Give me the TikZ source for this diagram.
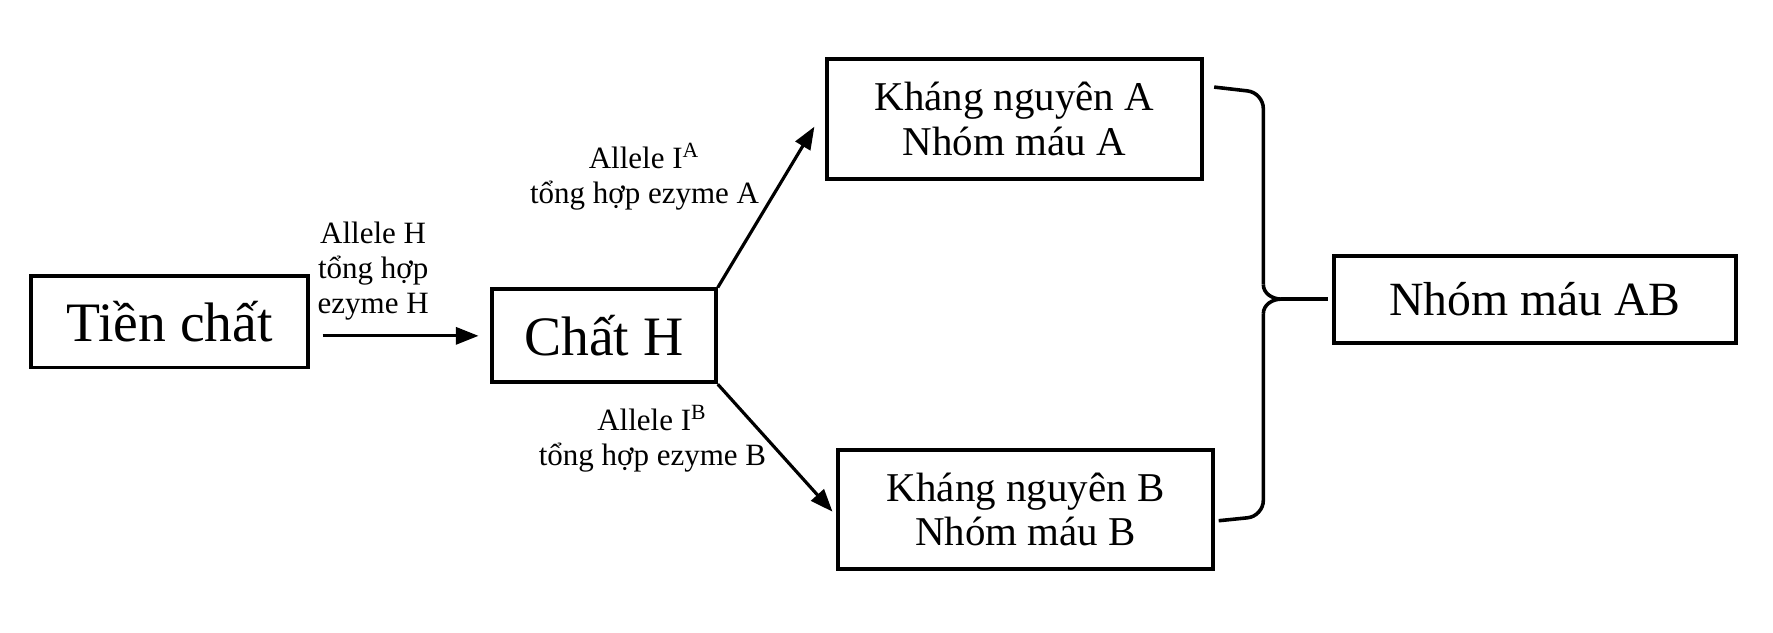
\documentclass[tikz,border=0pt]{standalone}
\usepackage{fontspec}
\setmainfont{Liberation Serif}
\usetikzlibrary{arrows.meta,calc}

\begin{document}
\begin{tikzpicture}
    \tikzstyle{block} = [rectangle, draw, line width=1pt, inner sep=0pt, align=center]
    \tikzstyle{enz} = [align=center, inner sep=0pt, font=\fontsize{7.8}{8.8}\selectfont]
    \tikzstyle{link} = [draw, line width=0.8pt, -{Triangle[length=2mm,width=1.5mm]}]
    \tikzstyle{brace} = [draw, line width=0.9pt]

    \useasboundingbox (0,0) rectangle (15.68,-5.59);

    % Boxes
    \node[block, minimum width=2.45cm, minimum height=0.81cm,
      font=\fontsize{14}{16}\selectfont] (tien) at (1.50,-2.845) {Tiền chất};
    \node[block, minimum width=1.98cm, minimum height=0.82cm,
      font=\fontsize{14}{16}\selectfont] (chatH) at (5.34,-2.97) {Chất H};
    \node[block, minimum width=3.32cm, minimum height=1.06cm,
      font=\fontsize{10.3}{11.3}\selectfont] (ka) at (8.97,-1.05) {Kháng nguyên A\\Nhóm máu A};
    \node[block, minimum width=3.32cm, minimum height=1.05cm,
      font=\fontsize{10.3}{11.3}\selectfont] (kb) at (9.07,-4.505) {Kháng nguyên B\\Nhóm máu B};
    \node[block, minimum width=3.55cm, minimum height=0.77cm,
      font=\fontsize{12}{14}\selectfont] (ab) at (13.575,-2.645) {Nhóm máu AB};

    % Enzyme labels
    \node[enz] (allH) at (3.30,-2.40) {Allele H\\tổng hợp\\ezyme H};
    \node[enz] (allA) at (5.70,-1.56) {Allele I\textsuperscript{A}\\tổng hợp ezyme A};
    \node[enz] (allB) at (5.77,-3.88) {Allele I\textsuperscript{B}\\tổng hợp ezyme B};

    % Arrows
    \path [link, shorten <=0.11cm, shorten >=0.1cm] (tien.east |- chatH.west) -- (chatH.west);
    \path [link] (chatH.north east) -- ([xshift=-0.09cm,yshift=-0.07cm]ka.west);
    \path [link] (chatH.south east) -- ([xshift=-0.03cm,yshift=-0.02cm]kb.west);

    % Brace
    \coordinate (tip) at ([xshift=-0.45cm]ab.west);
    \coordinate (bt) at ([xshift=0.09cm,yshift=0.28cm]ka.east);
    \coordinate (bb) at ([xshift=0.03cm,yshift=-0.1cm]kb.east);
    \path [brace, rounded corners=0.14cm]
      (bt) -- ($(bt -| tip)+(-0.16,-0.05)$) -- ($(tip)+(-0.16,0.13)$);
    \path [brace]
      ($(tip)+(-0.16,0.13)$) to[out=-90,in=180] (tip)
      to[out=180,in=90] ($(tip)+(-0.16,-0.13)$);
    \path [brace, rounded corners=0.14cm]
      ($(tip)+(-0.16,-0.13)$) -- ($(bb -| tip)+(-0.16,0.04)$) -- (bb);
    \draw [line width=0.9pt, shorten >=0.04cm] (tip) -- (ab.west);

\end{tikzpicture}
\end{document}
